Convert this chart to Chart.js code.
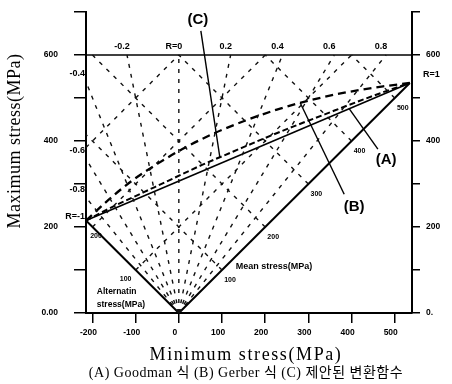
<!DOCTYPE html>
<html>
<head>
<meta charset="utf-8">
<script src="https://cdn.jsdelivr.net/npm/chart.js@4.4.1/dist/chart.umd.min.js"></script>
<style>
  html, body { margin: 0; padding: 0; background: #fff; }
  canvas { display: block; }
</style>
</head>
<body>
<canvas id="c" width="452" height="384"></canvas>
<script>
// Axis ranges and ticks (MPa)
const minStressRange = [-215, 540];
const maxStressRange = [0, 700];
const minStressTicks = [-200, -100, 0, 100, 200, 300, 400, 500];
const maxStressTicks = [0, 100, 200, 300, 400, 500, 600, 700];
const leftTickLabels = ['0.00', '', '200', '', '400', '', '600', ''];
const rightTickLabels = ['0.', '', '200', '', '400', '', '600', ''];
const upperLimit = 600;

// Stress ratio R = σmin / σmax
const stressRatios = [-0.8, -0.6, -0.4, -0.2, 0, 0.2, 0.4, 0.6, 0.8];
const ratioLabels = ['-0.8', '-0.6', '-0.4', '-0.2', 'R=0', '0.2', '0.4', '0.6', '0.8'];

// Constant mean / alternating stress levels
const meanLevels = [100, 200, 300, 400, 500];
const altLevels = [100, 200, 300];
const meanAxisLabels = [100, 200, 300, 400, 500];
const altAxisLabels = [100, 200];

// Fully reversed fatigue limit (R=-1) and tensile strength (R=1)
const fatigueLimit = 215;
const tensileStrength = 535;

// (A) Goodman
const goodmanMin = [-215, 535];
const goodmanMax = [215, 535];
// (B) Gerber
const gerberMin = [-215, -163, -108, -48, 15, 82, 153, 227, 305, 387, 473, 535];
const gerberMax = [215, 263, 308, 348, 385, 418, 447, 473, 495, 513, 527, 535];
// (C) proposed conversion function
const proposedMin = [-215, -149, -81, -13, 55, 125, 195, 266, 338, 410, 483, 535];
const proposedMax = [215, 249, 281, 313, 345, 375, 405, 434, 462, 490, 517, 535];

const callouts = [
  { text: '(A)', at: { x: 480, y: 356 }, from: { x: 461, y: 381 }, to: { x: 394, y: 476 } },
  { text: '(B)', at: { x: 406, y: 247 }, from: { x: 383, y: 276 }, to: { x: 281, y: 489 } },
  { text: '(C)', at: { x: 44, y: 681 }, from: { x: 51, y: 656 }, to: { x: 95, y: 362 } }
];

const [xLo, xHi] = minStressRange;
const pair = (xs, ys) => xs.map((v, i) => ({ x: v, y: ys[i] }));
const line = (pts, style) => Object.assign({
  data: pts, showLine: true, pointRadius: 0, borderColor: '#000',
  borderWidth: 1.3, fill: false, clip: false, tension: 0
}, style);

const gridStyle = { borderWidth: 1.4, borderDash: [4, 6], borderColor: '#111' };
const datasets = [];

// R lines from the origin to the upper limit or the left edge
stressRatios.forEach(r => {
  const topX = upperLimit * r;
  const end = topX >= xLo ? { x: topX, y: upperLimit } : { x: xLo, y: xLo / r };
  datasets.push(line([{ x: 0, y: 0 }, end], gridStyle));
});
// constant mean stress lines
meanLevels.forEach(m => {
  const topX = 2 * m - upperLimit;
  const end = topX >= xLo ? { x: topX, y: upperLimit } : { x: xLo, y: 2 * m - xLo };
  datasets.push(line([{ x: m, y: m }, end], gridStyle));
});
// constant alternating stress lines
altLevels.forEach(a => {
  const start = -a >= xLo ? { x: -a, y: a } : { x: xLo, y: xLo + 2 * a };
  datasets.push(line([start, { x: upperLimit - 2 * a, y: upperLimit }], gridStyle));
});

// upper limit line and the two stress axes
datasets.push(line([{ x: xLo, y: upperLimit }, { x: xHi, y: upperLimit }], { borderWidth: 1.5 }));
datasets.push(line([{ x: 0, y: 0 }, { x: -fatigueLimit, y: fatigueLimit }], { borderWidth: 2 }));
datasets.push(line([{ x: 0, y: 0 }, { x: tensileStrength, y: tensileStrength }], { borderWidth: 2 }));

// fatigue criteria
datasets.push(line(pair(goodmanMin, goodmanMax), { borderWidth: 1.6 }));
datasets.push(line(pair(gerberMin, gerberMax), { borderWidth: 2.3, borderDash: [8, 5], cubicInterpolationMode: 'monotone' }));
datasets.push(line(pair(proposedMin, proposedMax), { borderWidth: 2, borderDash: [6, 3], cubicInterpolationMode: 'monotone' }));

// callout leaders
callouts.forEach(c => datasets.push(line([c.from, c.to], { borderWidth: 1.4 })));

const tickFont = { family: '"Liberation Sans", Arial, sans-serif', size: 8.5, weight: 'bold' };
const axisGrid = { drawOnChartArea: false, drawTicks: true, color: '#000', lineWidth: 1.5 };
const axisBorder = { display: true, color: '#000', width: 2 };
const setTicks = list => scale => { scale.ticks = list.map(v => ({ value: v })); };
const fixWidth = w => s => { s.width = w; s.paddingTop = 0; s.paddingBottom = 0; };

const labelsPlugin = {
  id: 'stressLabels',
  afterDatasetsDraw(chart) {
    const { ctx, chartArea } = chart;
    const sx = chart.scales.x, sy = chart.scales.y;
    const X = v => sx.getPixelForValue(v);
    const Y = v => sy.getPixelForValue(v);
    const text = (s, x, y, font, align = 'center', spacing = '0px') => {
      ctx.font = font;
      ctx.textAlign = align;
      ctx.textBaseline = 'middle';
      ctx.letterSpacing = spacing;
      ctx.fillText(s, x, y);
    };
    ctx.save();
    ctx.fillStyle = '#000';
    const small = 'bold 9px "Liberation Sans", Arial, sans-serif';
    const tiny = 'bold 7px "Liberation Sans", Arial, sans-serif';

    stressRatios.forEach((r, i) => {
      const topX = upperLimit * r;
      if (topX >= xLo) text(ratioLabels[i], X(topX) - 5, Y(upperLimit) - 8, small);
      else text(ratioLabels[i], X(xLo) - 1, Y(xLo / r) - 8, small, 'right');
    });
    text('R=-1', X(xLo) - 1, Y(fatigueLimit) - 4, small, 'right');
    text('R=1', X(xHi) + 11, Y(tensileStrength) - 8, small, 'left');

    meanAxisLabels.forEach(v => text(String(v), X(v) + 8, Y(v) + 10, tiny));
    altAxisLabels.forEach(v => text(String(v), Math.max(X(-v) - 10, X(xLo) + 10), Y(v) + 9, tiny));

    text('Mean stress(MPa)', X(132), Y(107), small, 'left');
    text('Alternatin', X(-190), Y(49), 'bold 8.5px "Liberation Sans", Arial, sans-serif', 'left');
    text('stress(MPa)', X(-190), Y(19), 'bold 8.5px "Liberation Sans", Arial, sans-serif', 'left');

    callouts.forEach(c => text(c.text, X(c.at.x), Y(c.at.y), 'bold 15px "Liberation Sans", Arial, sans-serif'));

    const cx = (chartArea.left + chartArea.right) / 2 - 3;
    text('Minimum stress(MPa)', cx, chartArea.bottom + 42, '18px "Liberation Serif", "Times New Roman", serif', 'center', '1.6px');
    text('(A) Goodman 식 (B) Gerber 식 (C) 제안된 변환함수', cx, chartArea.bottom + 60,
      '14px "Liberation Serif", "Noto Sans CJK KR", serif', 'center', '0.5px');

    ctx.save();
    ctx.translate(15, chartArea.top + 129);
    ctx.rotate(-Math.PI / 2);
    text('Maximum stress(MPa)', 0, 0, '18px "Liberation Serif", "Times New Roman", serif', 'center', '0.5px');
    ctx.restore();
    ctx.restore();
  }
};

new Chart(document.getElementById('c'), {
  type: 'scatter',
  data: { datasets },
  plugins: [labelsPlugin],
  options: {
    responsive: false,
    animation: false,
    events: [],
    layout: { padding: { top: 12, left: 0, right: 0, bottom: 0 } },
    plugins: { legend: { display: false }, tooltip: { enabled: false }, title: { display: false } },
    scales: {
      x: {
        type: 'linear', position: 'bottom',
        min: minStressRange[0], max: minStressRange[1],
        afterBuildTicks: setTicks(minStressTicks),
        afterFit: s => { s.height = 71; s.paddingLeft = 0; s.paddingRight = 0; },
        ticks: { color: '#000', font: tickFont, padding: 5, labelOffset: -4, maxRotation: 0, autoSkip: false },
        grid: Object.assign({ tickLength: 10 }, axisGrid),
        border: axisBorder
      },
      y: {
        type: 'linear', position: 'left',
        min: maxStressRange[0], max: maxStressRange[1],
        afterBuildTicks: setTicks(maxStressTicks),
        afterFit: fixWidth(86),
        ticks: { color: '#000', font: tickFont, padding: 16, autoSkip: false,
          callback: v => leftTickLabels[maxStressTicks.indexOf(v)] },
        grid: Object.assign({ tickLength: 12 }, axisGrid),
        border: axisBorder
      },
      y2: {
        type: 'linear', position: 'right',
        min: maxStressRange[0], max: maxStressRange[1],
        afterBuildTicks: setTicks(maxStressTicks),
        afterFit: fixWidth(40),
        ticks: { color: '#000', font: tickFont, padding: 6, autoSkip: false,
          callback: v => rightTickLabels[maxStressTicks.indexOf(v)] },
        grid: Object.assign({ tickLength: 8 }, axisGrid),
        border: axisBorder
      }
    }
  }
});
</script>
</body>
</html>
